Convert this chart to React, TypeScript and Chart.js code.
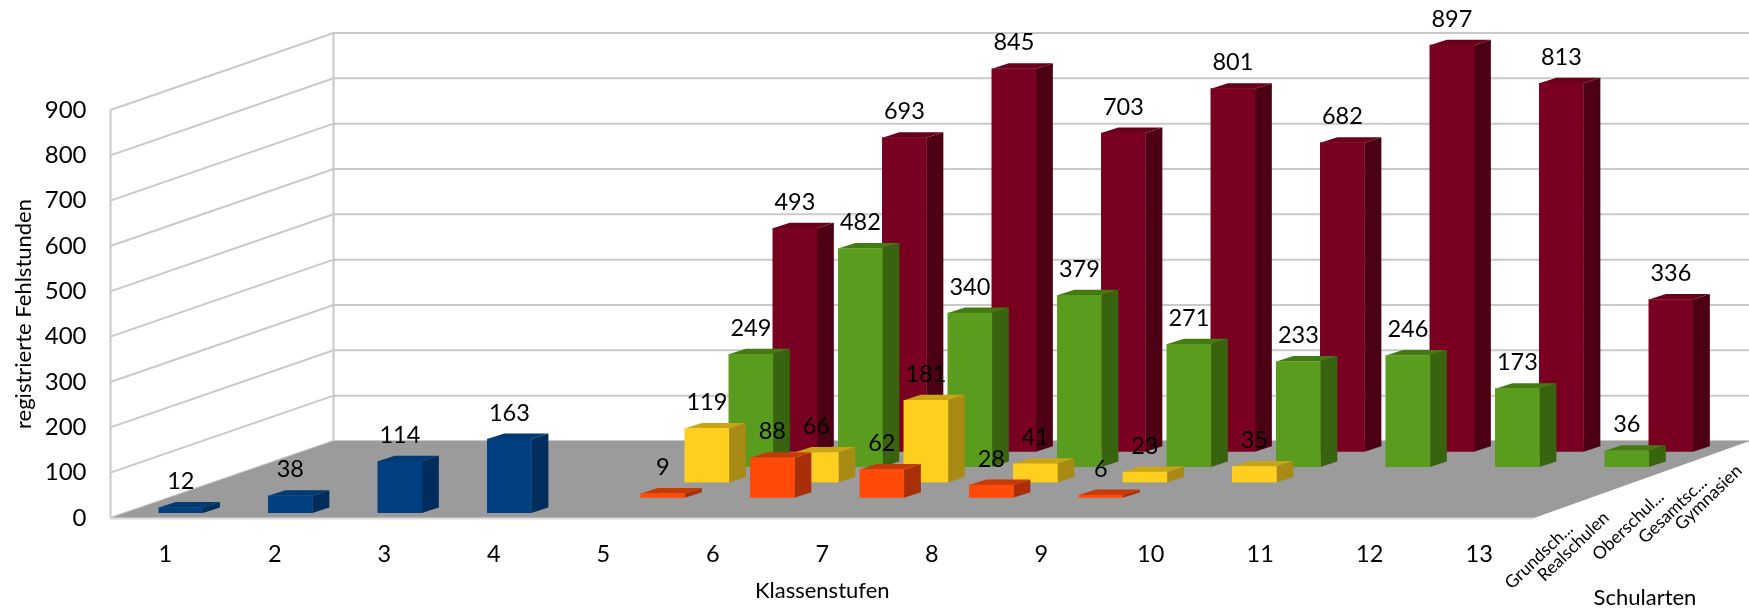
import React, { useEffect, useRef } from "react";
import { Chart, registerables } from "chart.js";

Chart.register(...registerables);

const klassenstufen = ["1", "2", "3", "4", "5", "6", "7", "8", "9", "10", "11", "12", "13"];
const grundschulen = [12, 38, 114, 163, null, null, null, null, null, null, null, null, null];
const realschulen = [null, null, null, null, 9, 88, 62, 28, 6, null, null, null, null];
const oberschulen = [null, null, null, null, 119, 66, 181, 41, 23, 35, null, null, null];
const gesamtschulen = [null, null, null, null, 249, 482, 340, 379, 271, 233, 246, 173, 36];
const gymnasien = [null, null, null, null, 493, 693, 845, 703, 801, 682, 897, 813, 336];

const schulartLabels = ["Grundsch...", "Realschulen", "Oberschul...", "Gesamtsc...", "Gymnasien"];

const FONT = "Lato, Carlito, sans-serif";
const palette = [
  { front: "#004080", side: "#002d5c", top: "#003a70" },
  { front: "#ff4a0a", side: "#a82f08", top: "#c43a08" },
  { front: "#ffcf1f", side: "#a98a14", top: "#c8a417" },
  { front: "#5a9c1d", side: "#38640f", top: "#437a12" },
  { front: "#7a0022", side: "#4d0014", top: "#68001c" },
];
const seriesValues = [grundschulen, realschulen, oberschulen, gesamtschulen, gymnasien];

const depthOf = (i: number) => ({ dx: 15.6 + 44.0 * i, dy: -5 - 15.3 * i });
const BAR_DX = 17;
const BAR_DY = -5.5;
const FLOOR_DY = -77;
const FLOOR_LEFT_DX = 223;
const FLOOR_RIGHT_DX = 216;
const schulartAnchors = [
  [1570, 526],
  [1606, 515],
  [1661, 494],
  [1704, 480],
  [1739, 468],
];

const chart3d = {
  id: "chart3d",
  beforeDatasetsDraw(chart: any) {
    const { ctx, scales, width } = chart;
    const x = scales.x;
    const y = scales.y;
    const y0 = y.getPixelForValue(0);
    ctx.save();
    ctx.strokeStyle = "#c9c9c9";
    ctx.lineWidth = 2;
    for (const t of y.ticks) {
      const p = y.getPixelForValue(t.value);
      ctx.beginPath();
      ctx.moveTo(x.left, p);
      ctx.lineTo(x.left + FLOOR_LEFT_DX, p + FLOOR_DY);
      ctx.lineTo(width, p + FLOOR_DY);
      ctx.stroke();
    }
    const yTop = y.getPixelForValue(900);
    ctx.beginPath();
    ctx.moveTo(x.left, y0);
    ctx.lineTo(x.left, yTop);
    ctx.moveTo(x.left + FLOOR_LEFT_DX, y0 + FLOOR_DY);
    ctx.lineTo(x.left + FLOOR_LEFT_DX, yTop + FLOOR_DY);
    ctx.stroke();
    ctx.fillStyle = "#9b9b9b";
    ctx.beginPath();
    ctx.moveTo(x.left, y0);
    ctx.lineTo(x.left + FLOOR_LEFT_DX, y0 + FLOOR_DY);
    ctx.lineTo(x.right + FLOOR_RIGHT_DX, y0 + FLOOR_DY);
    ctx.lineTo(x.right, y0);
    ctx.closePath();
    ctx.fill();
    ctx.strokeStyle = "#dcdcdc";
    ctx.beginPath();
    ctx.moveTo(x.left, y0 + 0.5);
    ctx.lineTo(x.right, y0 + 0.5);
    ctx.stroke();
    ctx.restore();
  },
  beforeDatasetDraw(chart: any, args: any) {
    const { ctx } = chart;
    const d = depthOf(args.index);
    const c = palette[args.index];
    const values = chart.data.datasets[args.index].data;
    ctx.save();
    ctx.translate(d.dx, d.dy);
    const meta = chart.getDatasetMeta(args.index);
    meta.data.forEach((el: any, k: number) => {
      if (values[k] == null) return;
      const l = el.x - el.width / 2;
      const r = el.x + el.width / 2;
      ctx.fillStyle = c.side;
      ctx.beginPath();
      ctx.moveTo(r, el.y);
      ctx.lineTo(r + BAR_DX, el.y + BAR_DY);
      ctx.lineTo(r + BAR_DX, el.base + BAR_DY);
      ctx.lineTo(r, el.base);
      ctx.closePath();
      ctx.fill();
      ctx.fillStyle = c.top;
      ctx.beginPath();
      ctx.moveTo(l, el.y);
      ctx.lineTo(l + BAR_DX, el.y + BAR_DY);
      ctx.lineTo(r + BAR_DX, el.y + BAR_DY);
      ctx.lineTo(r, el.y);
      ctx.closePath();
      ctx.fill();
    });
  },
  afterDatasetDraw(chart: any) {
    chart.ctx.restore();
  },
  afterDatasetsDraw(chart: any) {
    const { ctx, data } = chart;
    ctx.save();
    ctx.fillStyle = "#000";
    ctx.textAlign = "center";
    ctx.textBaseline = "middle";
    ctx.font = `23.5px ${FONT}`;
    data.datasets.forEach((ds: any, i: number) => {
      const d = depthOf(i);
      chart.getDatasetMeta(i).data.forEach((el: any, k: number) => {
        const v = ds.data[k];
        if (v == null) return;
        ctx.fillText(String(v), el.x + d.dx, el.y + d.dy - 26);
      });
    });
    ctx.font = `17.5px ${FONT}`;
    ctx.textAlign = "right";
    schulartLabels.forEach((t, i) => {
      ctx.save();
      ctx.translate(schulartAnchors[i][0], schulartAnchors[i][1]);
      ctx.rotate((-44 * Math.PI) / 180);
      ctx.fillText(t, 0, 0);
      ctx.restore();
    });
    ctx.font = `22px ${FONT}`;
    ctx.textAlign = "center";
    ctx.fillText("Schularten", 1645, 598);
    ctx.restore();
  },
};

export default function App() {
  const ref = useRef<HTMLCanvasElement | null>(null);
  useEffect(() => {
    const chart = new Chart(ref.current as HTMLCanvasElement, {
      type: "bar",
      plugins: [chart3d],
      data: {
        labels: klassenstufen,
        datasets: seriesValues.map((values, i) => ({
          label: schulartLabels[i],
          data: values,
          backgroundColor: palette[i].front,
          barThickness: 44,
          grouped: false,
        })),
      } as any,
      options: {
        animation: false,
        responsive: false,
        devicePixelRatio: 1,
        layout: { padding: { top: 110, right: 215, left: 0, bottom: 0 } },
        plugins: { legend: { display: false }, tooltip: { enabled: false } },
        scales: {
          x: {
            afterFit: (s: any) => { s.height = 95; },
            grid: { display: false, drawTicks: false },
            border: { display: false },
            ticks: {
              autoSkip: false,
              maxRotation: 0,
              padding: 22,
              color: "#000",
              font: { family: FONT, size: 23.5 },
            },
            title: {
              display: true,
              text: "Klassenstufen",
              color: "#000",
              font: { family: FONT, size: 22 },
              padding: { top: 0, bottom: 9 },
            },
          },
          y: {
            min: 0,
            max: 900,
            afterFit: (s: any) => { s.width = 110.5; },
            grid: { display: false, drawTicks: false },
            border: { display: false },
            ticks: {
              stepSize: 100,
              padding: 24,
              color: "#000",
              font: { family: FONT, size: 24 },
            },
            title: {
              display: true,
              text: "registrierte Fehlstunden",
              color: "#000",
              font: { family: FONT, size: 22 },
              padding: { top: 11, bottom: 0 },
            },
          },
        },
      } as any,
    });
    return () => chart.destroy();
  }, []);
  return (
    <div style={{ position: "fixed", left: 0, top: 0, width: 1749, height: 613, background: "#fff" }}>
      <canvas ref={ref} width={1749} height={613} style={{ display: "block", filter: "blur(0.6px)" }} />
    </div>
  );
}
